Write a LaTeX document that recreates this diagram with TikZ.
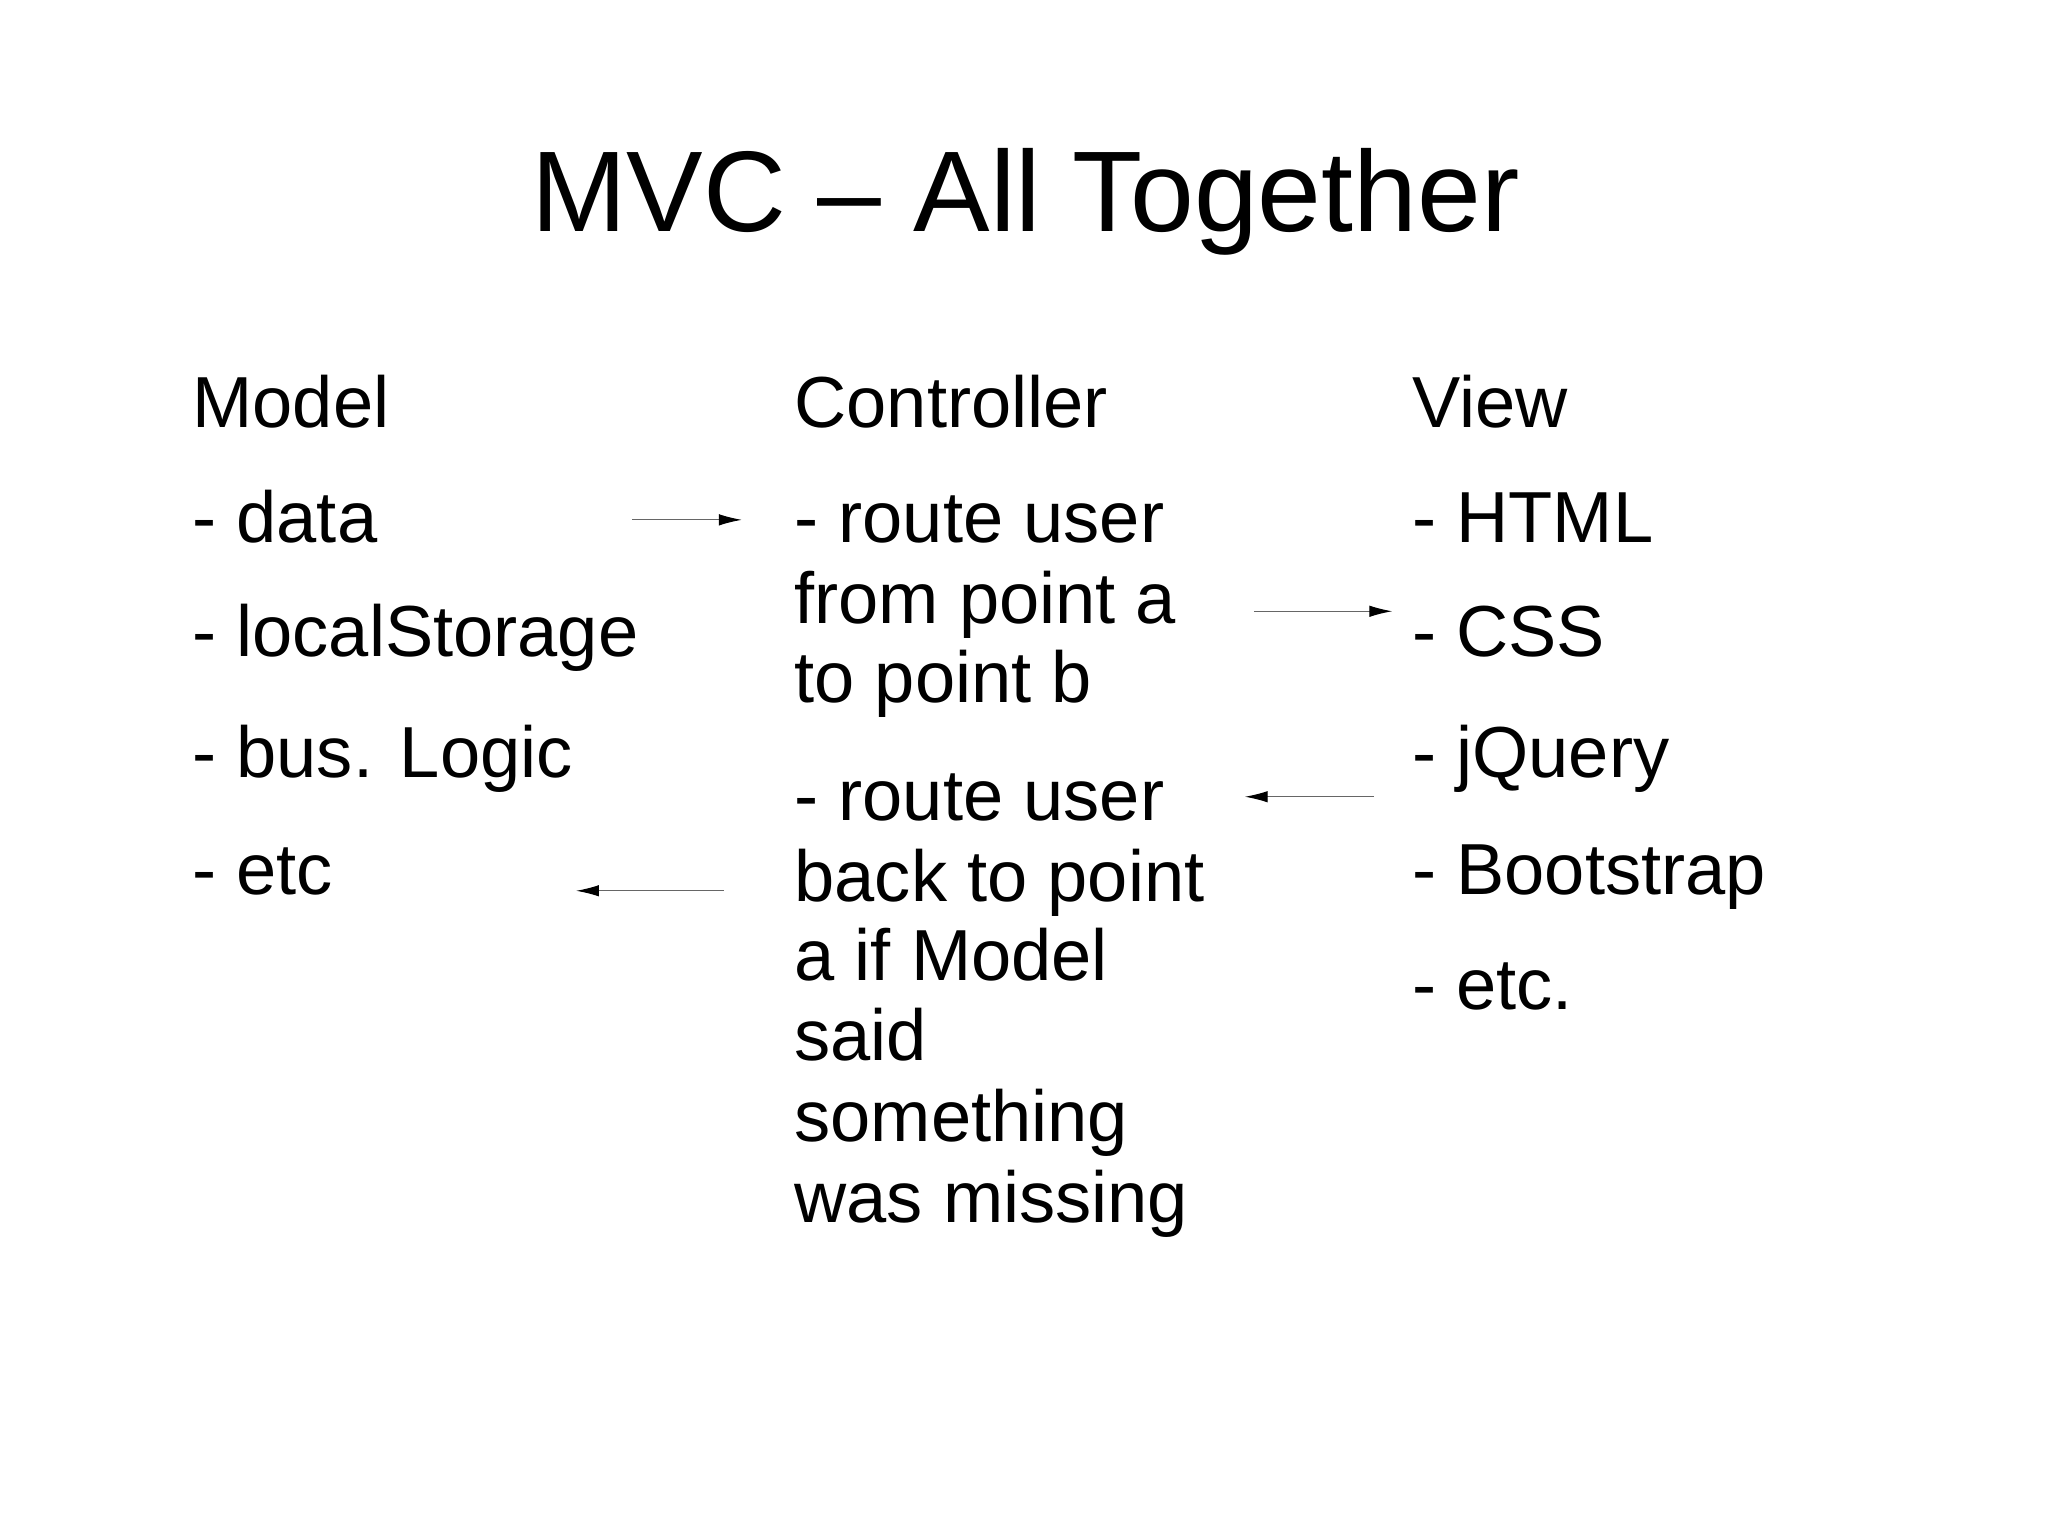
\documentclass[tikz,border=0pt]{standalone}
\usepackage{fontspec}
\setmainfont{Liberation Sans}
\usetikzlibrary{arrows.meta}
\begin{document}
\begin{tikzpicture}[x=0.02cm,y=-0.02cm,
  txt/.style={anchor=base west,inner sep=0,font=\fontsize{31.5}{35}\selectfont},
  lnk/.style={draw=black!60,line width=0.5pt,-{Latex[length=10pt,width=5pt,black]}}]
\useasboundingbox (0,0) rectangle (1568,1176);
\node[anchor=base,inner sep=0,font=\fontsize{50}{60}\selectfont] (t) at (785,177) {MVC -- All Together};
\node[txt] (m0) at (147,327) {Model};
\node[txt] (m1) at (147,415) {- data};
\node[txt] (m2) at (147,503) {- localStorage};
\node[txt] (m3) at (147,595) {- bus. Logic};
\node[txt] (m4) at (147,685) {- etc};
\node[txt] (c0) at (608,327) {Controller};
\node[txt] (c1a) at (608,415) {- route user};
\node[txt] (c1b) at (608,477) {from point a};
\node[txt] (c1c) at (608,538) {to point b};
\node[txt] (c2a) at (608,628) {- route user};
\node[txt] (c2b) at (608,690) {back to point};
\node[txt] (c2c) at (608,751) {a if Model};
\node[txt] (c2d) at (608,812) {said};
\node[txt] (c2e) at (608,874) {something};
\node[txt] (c2f) at (608,936) {was missing};
\node[txt] (v0) at (1081,327) {View};
\node[txt] (v1) at (1081,415) {- HTML};
\node[txt] (v2) at (1081,503) {- CSS};
\node[txt] (v3) at (1081,595) {- jQuery};
\node[txt] (v4) at (1081,685) {- Bootstrap};
\node[txt] (v5) at (1081,773) {- etc.};
\coordinate (a1) at (484,398); \coordinate (b1) at (568,398);
\coordinate (a2) at (960,468); \coordinate (b2) at (1066,468);
\coordinate (a3) at (1052,610); \coordinate (b3) at (953,610);
\coordinate (a4) at (554,682); \coordinate (b4) at (441,682);
\draw[lnk] (a1) -- (b1);
\draw[lnk] (a2) -- (b2);
\draw[lnk] (a3) -- (b3);
\draw[lnk] (a4) -- (b4);
\end{tikzpicture}
\end{document}
